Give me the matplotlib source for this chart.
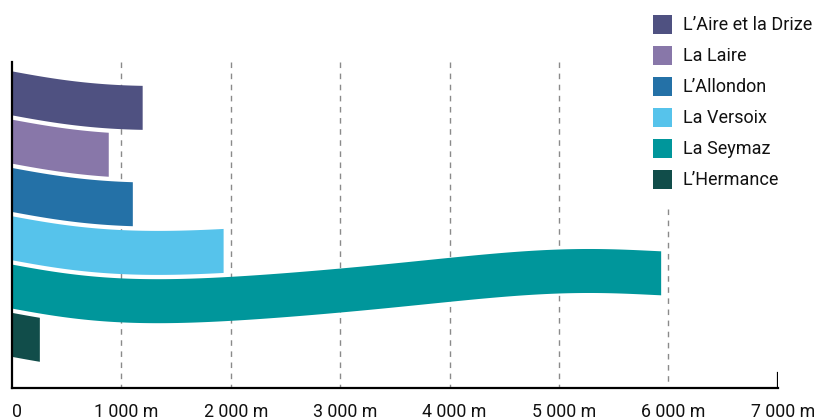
import numpy as np
import matplotlib
matplotlib.use("Agg")
import matplotlib.pyplot as plt
from matplotlib.patches import Rectangle
from matplotlib.transforms import ScaledTranslation

plt.rcParams['font.family'] = ['Roboto', 'DejaVu Sans']

# river lengths in metres
rivers = ["L\u2019Aire et la Drize", "La Laire", "L\u2019Allondon",
          "La Versoix", "La Seymaz", "L\u2019Hermance"]
lengths = [1190, 880, 1100, 1930, 5930, 250]
colors = ["#4f5181", "#8877a9", "#2471a7", "#56c3eb", "#00969b", "#114d4a"]
ticks = [0, 1000, 2000, 3000, 4000, 5000, 6000, 7000]
tick_labels = ["0" if t == 0 else f"{t:,} m".replace(",", " ") for t in ticks]

# shape of the river "wave" (vertical shift in px along the length)
wave_m = [0, 250, 600, 900, 1200, 1500, 2000, 2500, 3000, 3500, 4000, 4500, 5000, 5500, 6000]
wave_px = [0, 4.7, 10, 13.5, 14.5, 14, 12, 8.5, 4, -1.5, -7, -12, -15, -15.5, -13]
wave = np.polyfit(wave_m, wave_px, 7)

W, H = 816, 420
fig = plt.figure(figsize=(W / 100, H / 100), dpi=100)
ax = fig.add_axes([12 / W, 32 / H, (777.7 - 12) / W, 326 / H])
ax.set_xlim(0, 7000)
ax.set_ylim(388, 62)  # y in pixel rows, top to bottom

# dashed grid, the 6000 one stops under the legend
for t in ticks[1:-1]:
    top = 209 if t == 6000 else 62
    ax.vlines(t, top, 388, colors="#8a8a8a", linewidth=1.0,
              linestyles=(0, (4, 4)), zorder=0.5)

band = 44
step = 48.3
for i, (length, c) in enumerate(zip(lengths, colors)):
    xs = np.linspace(0, length, 200)
    off = np.polyval(wave, xs)
    y0 = 71 + step * i + off
    ax.fill_between(xs, y0, y0 + band, color=c, linewidth=0, zorder=2)

for s in ["top", "right"]:
    ax.spines[s].set_visible(False)
for s in ["left", "bottom"]:
    ax.spines[s].set_linewidth(1.6)
    ax.spines[s].set_color("black")
ax.axvline(7000, ymin=0, ymax=15 / 326, color="black", linewidth=1.6)

ax.set_yticks([])
ax.set_xticks(ticks)
ax.set_xticklabels(tick_labels, fontsize=12.8, color="#111111")
ax.tick_params(axis="x", length=0, pad=11)
shift = ScaledTranslation(5 / 100, 0, fig.dpi_scale_trans)
for lab in ax.get_xticklabels():
    lab.set_transform(lab.get_transform() + shift)

# legend, drawn by hand
for i, (name, c) in enumerate(zip(rivers, colors)):
    top = 15 + 31 * i
    fig.add_artist(Rectangle((653 / W, 1 - (top + 19) / H), 19 / W, 19 / H,
                             transform=fig.transFigure, color=c, linewidth=0))
    fig.text(683 / W, 1 - (top + 10) / H, name, va="center", ha="left",
             fontsize=13, color="#111111")

fig.savefig("out.png", dpi=100)
